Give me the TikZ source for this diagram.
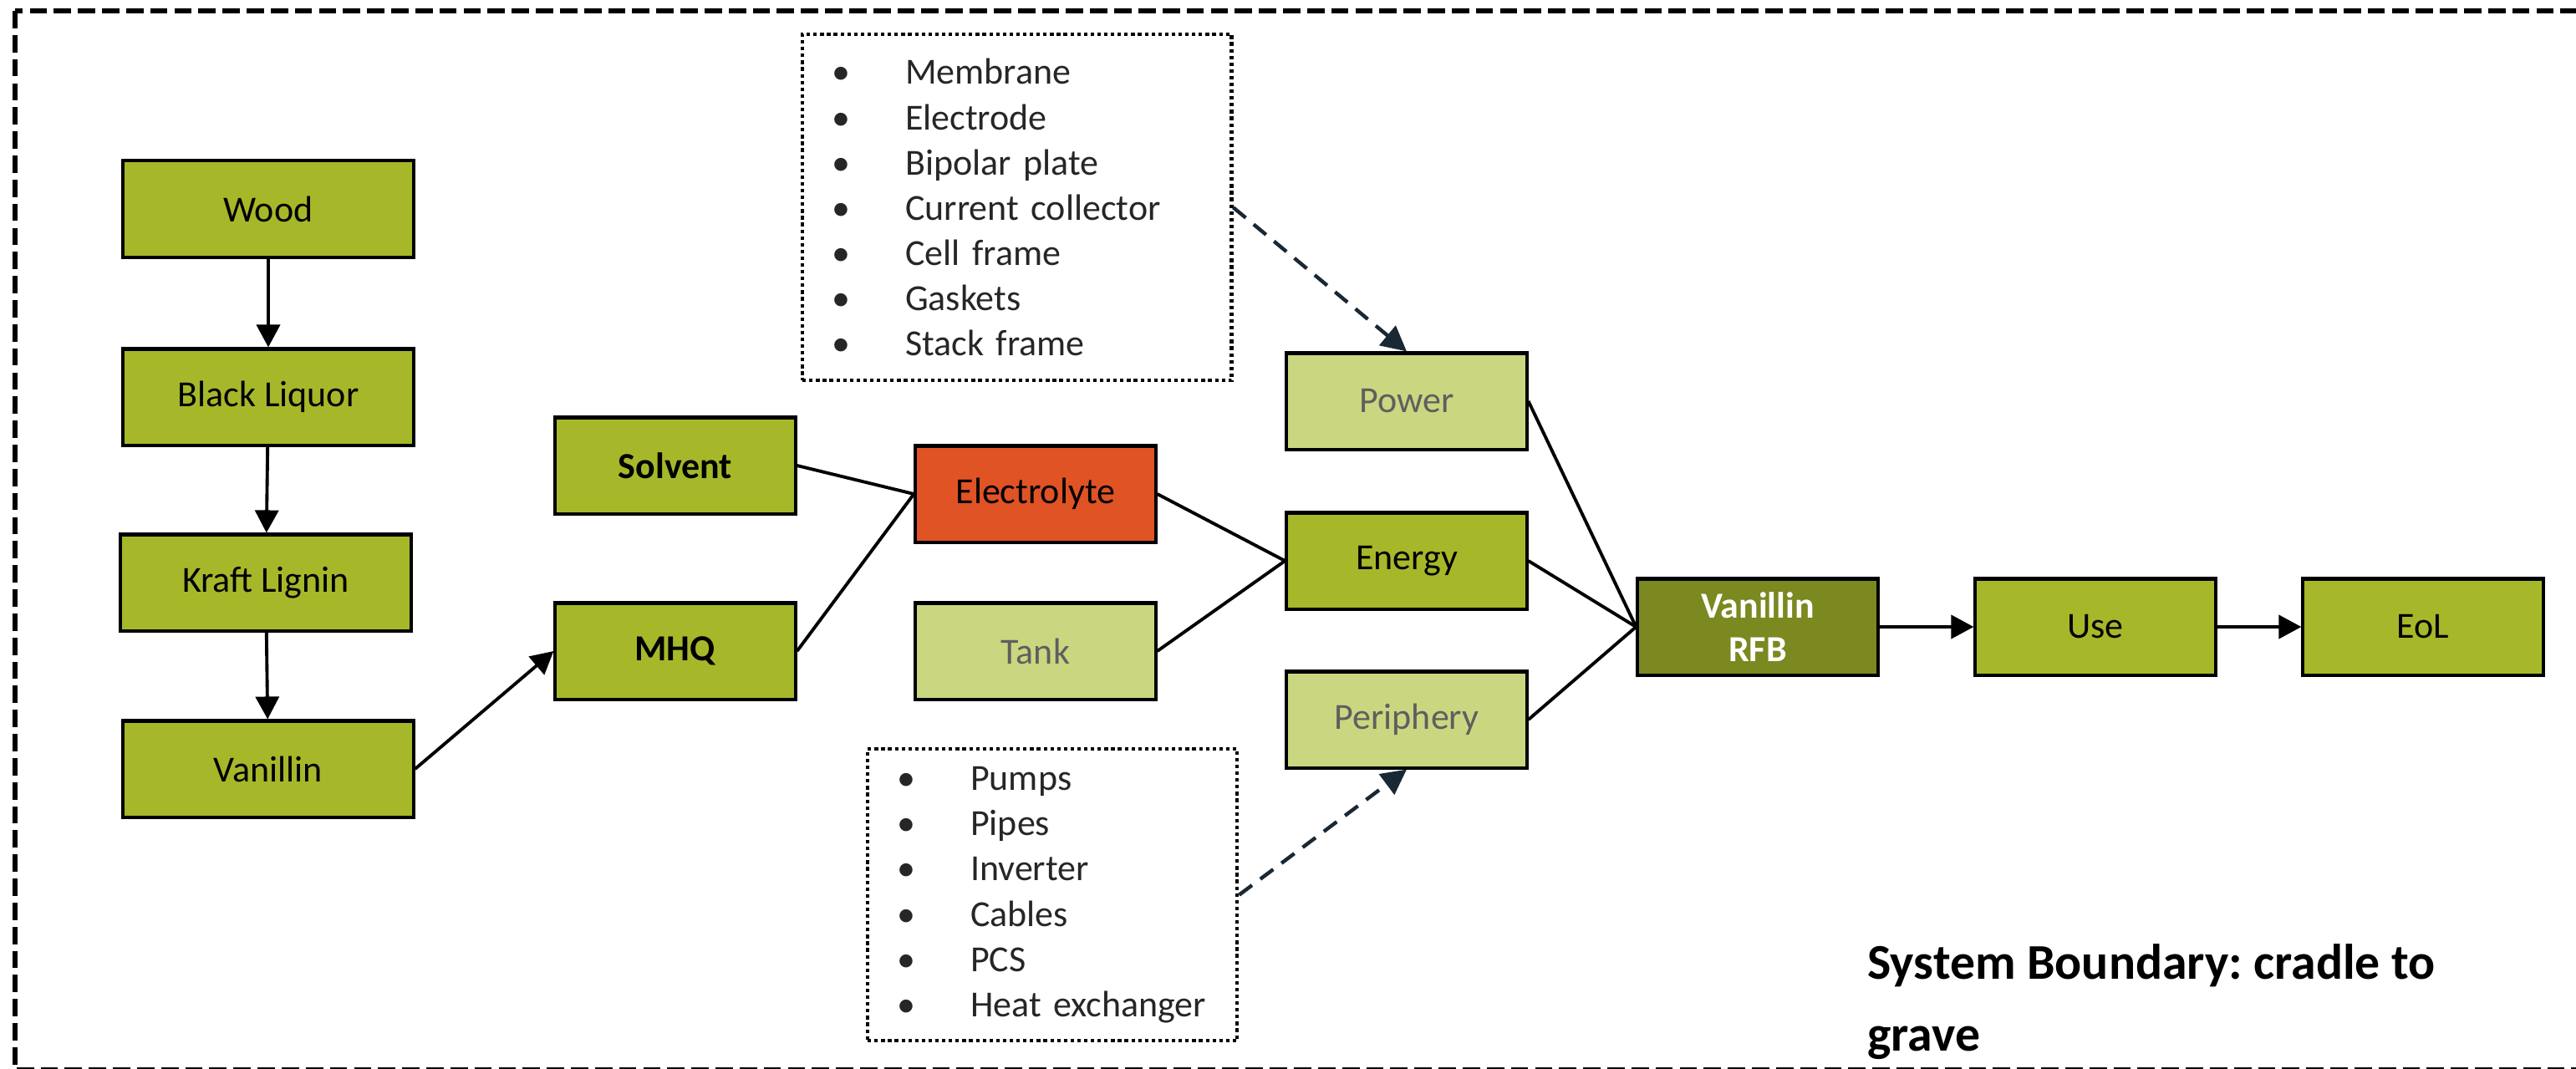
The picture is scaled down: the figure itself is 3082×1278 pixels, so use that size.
\documentclass[tikz,border=0pt]{standalone}
\usepackage{fontspec}
\setmainfont{Carlito}
\usetikzlibrary{arrows.meta}

\definecolor{leafgreen}{RGB}{166,184,41}
\definecolor{olivedark}{RGB}{124,136,32}
\definecolor{rustorange}{RGB}{224,83,37}
\definecolor{hatchgreen}{RGB}{203,214,128}
\definecolor{inkblue}{RGB}{26,40,52}
\definecolor{labelgray}{RGB}{95,95,95}

\newcommand{\partitem}[1]{\makebox[0.88cm][l]{\textbullet}#1}

\tikzset{
  box/.style={draw=black, line width=1.15pt, minimum width=2.87cm, minimum height=1.15cm, inner sep=0pt, font=\fontsize{12.5}{15}\selectfont},
  stage/.style={box, fill=leafgreen},
  widestage/.style={stage, minimum width=3.47cm},
  part/.style={box, fill=hatchgreen, text=labelgray},
  flow/.style={line width=1.1pt, -{Triangle[length=0.27cm, width=0.28cm]}},
  link/.style={line width=1.1pt},
  hint/.style={inkblue, line width=1.25pt, dash pattern=on 5.5pt off 3.5pt, -{Triangle[length=0.3cm, width=0.3cm]}},
  listbox/.style={draw, line width=1.2pt, dash pattern=on 1.2pt off 1.1pt, align=left, anchor=north west, inner xsep=0.35cm, inner ysep=0pt, text=black!85, font=\fontsize{12.5}{15.4}\selectfont}
}

\begin{document}
\begin{tikzpicture}[x=0.01cm, y=-0.01cm]
  \useasboundingbox (0,0) rectangle (3082,1278);
  \clip (0,0) rectangle (3082,1278);
  % system boundary, runs off the right and bottom edge
  \draw[line width=1.7pt, dash pattern=on 5.9pt off 2.3pt] (18,13) rectangle (3110,1280);

  % feedstock chain
  \node[widestage] (wood) at (321,250) {Wood};
  \node[widestage] (liquor) at (321,475) {Black Liquor};
  \node[widestage] (lignin) at (318,697) {Kraft Lignin};
  \node[widestage] (vanillin) at (321,920) {Vanillin};

  \node[stage] (solvent) at (808,557) {\textbf{Solvent}};
  \node[stage] (mhq) at (808,779) {\textbf{MHQ}};
  \node[box, fill=rustorange] (electrolyte) at (1239,591) {Electrolyte};
  \node[part] (tank) at (1239,779) {Tank};

  \node[part] (power) at (1683,480) {Power};
  \node[stage] (energy) at (1683,671) {Energy};
  \node[part] (periphery) at (1683,861) {Periphery};

  \node[box, fill=olivedark, text=white, align=center, font=\bfseries\fontsize{12.5}{15}\selectfont] (rfb) at (2103,750) {Vanillin\\RFB};
  \node[stage] (use) at (2507,750) {Use};
  \node[stage] (eol) at (2899,750) {EoL};

  % component lists
  \node[listbox, minimum width=5.13cm, minimum height=4.14cm, text width=4.43cm] (stack) at (958,39) {%
    \partitem{Membrane}\\ \partitem{Electrode}\\ \partitem{Bipolar plate}\\ \partitem{Current collector}\\
    \partitem{Cell frame}\\ \partitem{Gaskets}\\ \partitem{Stack frame}};
  \node[listbox, minimum width=4.42cm, minimum height=3.49cm, text width=3.72cm] (bop) at (1036,894) {%
    \partitem{Pumps}\\ \partitem{Pipes}\\ \partitem{Inverter}\\ \partitem{Cables}\\
    \partitem{PCS}\\ \partitem{Heat exchanger}};

  % base anchor sits on the last line here
  \node[anchor=base west, align=left, font=\bfseries\frenchspacing\fontsize{17}{24.2}\selectfont] (scope) at (2222,1257) {System Boundary: cradle to\\grave};

  \draw[flow] (wood) -- (liquor);
  \draw[flow] (liquor) -- (lignin);
  \draw[flow] (lignin) -- (vanillin);
  \draw[flow] (vanillin.east) -- (mhq.west);

  \draw[link] (solvent.east) -- (electrolyte.west);
  \draw[link] (mhq.east) -- (electrolyte.west);
  \draw[link] (electrolyte.east) -- (energy.west);
  \draw[link] (tank.east) -- (energy.west);
  \draw[link] (power.east) -- (rfb.west);
  \draw[link] (energy.east) -- (rfb.west);
  \draw[link] (periphery.east) -- (rfb.west);

  \draw[flow] (rfb) -- (use);
  \draw[flow] (use) -- (eol);

  \draw[hint] (stack.east) -- (power.north);
  \draw[hint] (bop.east) -- (periphery.south);
\end{tikzpicture}
\end{document}
